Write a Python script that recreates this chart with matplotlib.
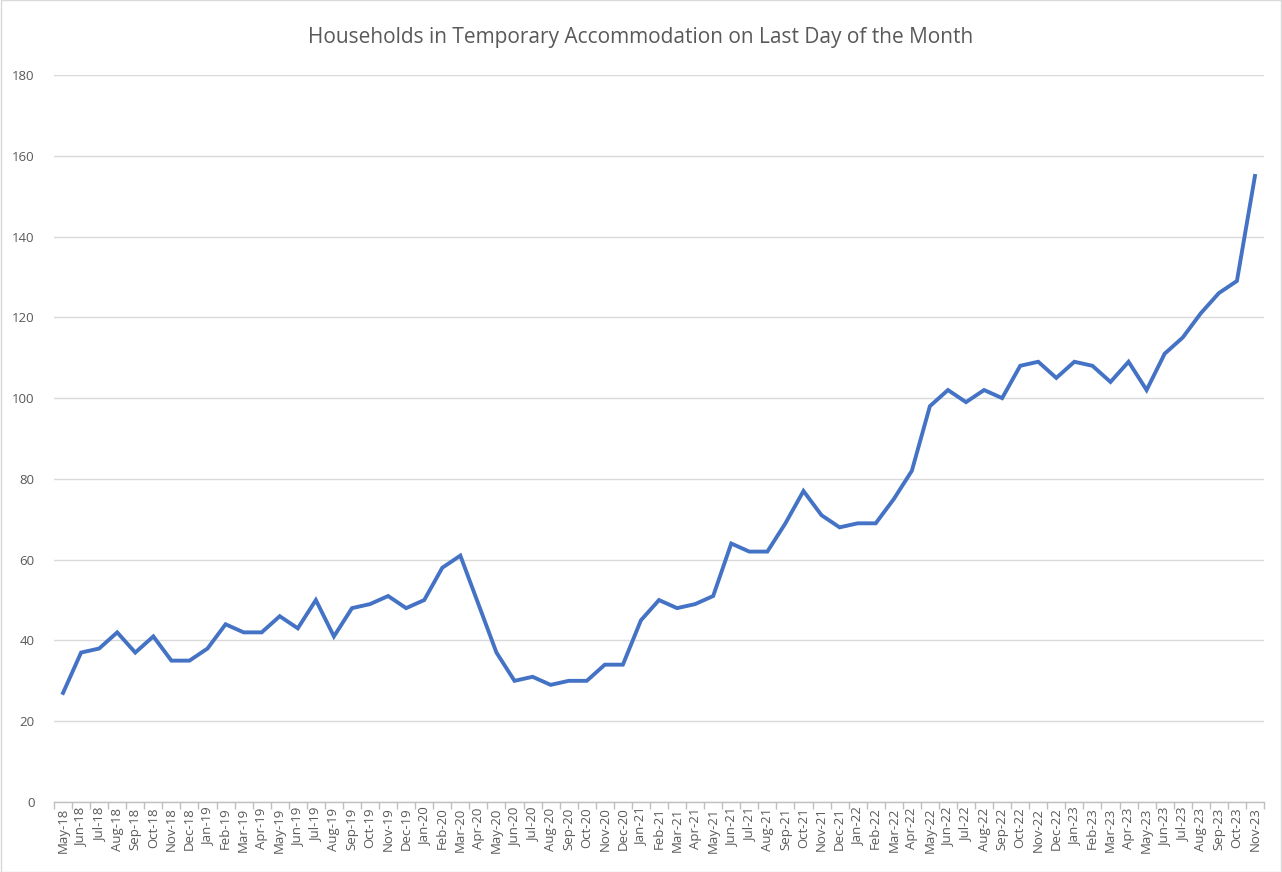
import matplotlib
matplotlib.use("Agg")
import matplotlib.pyplot as plt
from matplotlib.patches import Rectangle

months = ["May-18","Jun-18","Jul-18","Aug-18","Sep-18","Oct-18","Nov-18","Dec-18",
          "Jan-19","Feb-19","Mar-19","Apr-19","May-19","Jun-19","Jul-19","Aug-19","Sep-19","Oct-19","Nov-19","Dec-19",
          "Jan-20","Feb-20","Mar-20","Apr-20","May-20","Jun-20","Jul-20","Aug-20","Sep-20","Oct-20","Nov-20","Dec-20",
          "Jan-21","Feb-21","Mar-21","Apr-21","May-21","Jun-21","Jul-21","Aug-21","Sep-21","Oct-21","Nov-21","Dec-21",
          "Jan-22","Feb-22","Mar-22","Apr-22","May-22","Jun-22","Jul-22","Aug-22","Sep-22","Oct-22","Nov-22","Dec-22",
          "Jan-23","Feb-23","Mar-23","Apr-23","May-23","Jun-23","Jul-23","Aug-23","Sep-23","Oct-23","Nov-23"]
households = [27, 37, 38, 42, 37, 41, 35, 35,
              38, 44, 42, 42, 46, 43, 50, 41, 48, 49, 51, 48,
              50, 58, 61, 49, 37, 30, 31, 29, 30, 30, 34, 34,
              45, 50, 48, 49, 51, 64, 62, 62, 69, 77, 71, 68,
              69, 69, 75, 82, 98, 102, 99, 102, 100, 108, 109, 105,
              109, 108, 104, 109, 102, 111, 115, 121, 126, 129, 155]
yticks = [0, 20, 40, 60, 80, 100, 120, 140, 160, 180]
title = "Households in Temporary Accommodation on Last Day of the Month"

plt.rcParams['font.family'] = ['Open Sans', 'DejaVu Sans']

fig = plt.figure(figsize=(12.82, 8.72), dpi=100)
ax = fig.add_axes([54/1282, 70/872, 1210/1282, 727/872])

x = list(range(len(months)))
ax.plot(x, households, color="#4472C4", linewidth=2.8, solid_joinstyle="miter")

ax.set_xlim(-0.5, len(months) - 0.5)
ax.set_ylim(0, 180)
ax.set_yticks(yticks)
ax.set_yticklabels([str(v) for v in yticks], color="#595959", fontsize=9.5)
ax.set_xticks(x)
ax.set_xticklabels(months, rotation=90, color="#595959", fontsize=9.5)
ax.tick_params(axis="x", length=0, pad=4)
ax.tick_params(axis="y", length=0, pad=14)
ax.set_xticks([i - 0.5 for i in range(len(months) + 1)], minor=True)
ax.tick_params(axis="x", which="minor", length=5, color="#bfbfbf", width=1)

ax.grid(axis="y", color="#d9d9d9", linewidth=1)
ax.set_axisbelow(True)
for s in ["top", "right", "left"]:
    ax.spines[s].set_visible(False)
ax.spines["bottom"].set_color("#bfbfbf")
ax.spines["bottom"].set_linewidth(1)

fig.text(0.5, 1 - 38/872, title, ha="center", va="center", fontsize=15, color="#595959")

fig.patches.append(Rectangle((0.0005, 0.0005), 0.999, 0.999, transform=fig.transFigure,
                             fill=False, edgecolor="#d9d9d9", linewidth=1))

fig.savefig("out.png", dpi=100)
